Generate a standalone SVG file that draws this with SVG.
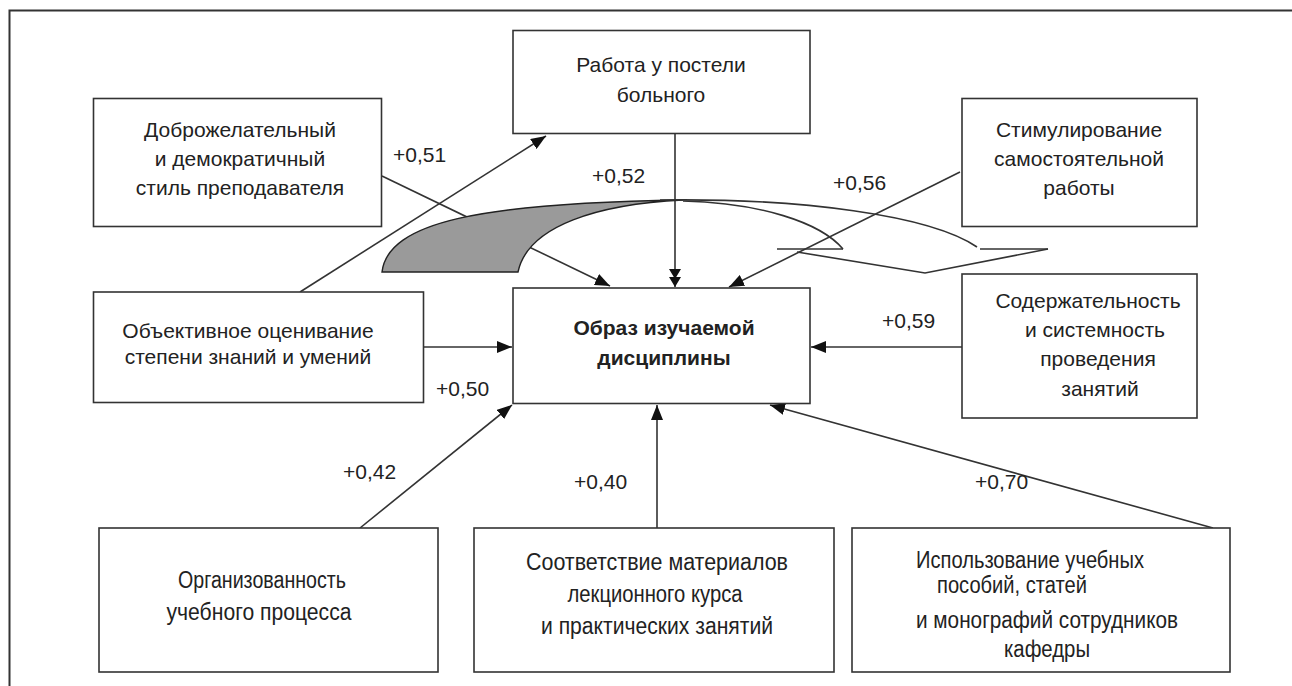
<svg xmlns="http://www.w3.org/2000/svg" width="1292" height="686" viewBox="0 0 1292 686">
<style>
.box{fill:#fff;stroke:#333;stroke-width:1.6}
.t{font-family:"Liberation Sans",Arial,sans-serif;font-size:21px;fill:#222;text-anchor:middle}
.b{font-weight:bold}
.n{font-family:"Liberation Sans Narrow","Liberation Sans",Arial,sans-serif;font-size:23px;fill:#222;text-anchor:middle}
.lbl{font-family:"Liberation Sans",Arial,sans-serif;font-size:21px;fill:#222}
.c{fill:none;stroke:#333;stroke-width:1.6}
.frame{fill:none;stroke:#333;stroke-width:2}
</style>
<defs>
<marker id="ah" viewBox="0 0 15 12" refX="15" refY="6" markerWidth="15" markerHeight="12" markerUnits="userSpaceOnUse" orient="auto">
<path d="M0,0 L15,6 L0,12 Z" fill="#111"/>
</marker>
<marker id="ah2" viewBox="0 0 18 12" refX="18" refY="6" markerWidth="18" markerHeight="12" markerUnits="userSpaceOnUse" orient="auto">
<path d="M0,0 L10,6 L0,12 Z M8,0 L18,6 L8,12 Z" fill="#111"/>
</marker>
</defs>
<rect width="1292" height="686" fill="#fff"/>
<path class="frame" d="M9.5,686 L9.5,10.5 L1292,10.5"/>

<g id="connectors">
<path class="c" d="M382,176 L610,286" marker-end="url(#ah)"/>
<path class="c" d="M300,292 L546,136" marker-end="url(#ah)"/>
<path class="c" d="M675,133 L675,287" marker-end="url(#ah2)"/>
<path class="c" d="M960,172 L729,287" marker-end="url(#ah)"/>
<path class="c" d="M962,347 L811,347" marker-end="url(#ah)"/>
<path class="c" d="M424,347 L512,347" marker-end="url(#ah)"/>
<path class="c" d="M360,528 L512,405" marker-end="url(#ah)"/>
<path class="c" d="M657,528 L657,405" marker-end="url(#ah)"/>
<path class="c" d="M1213,528 L770,405" marker-end="url(#ah)"/>
<path d="M382,272 C388,222 480,203 683,200 C600,204 528,225 518,272 Z" fill="#9a9a9a" stroke="#222" stroke-width="1.4"/>
<path class="c" d="M683,201 C760,203 820,222 843,249"/>
<path class="c" d="M660,200 C800,198 930,215 977,247"/>
<path class="c" d="M777,249 L843,249"/>
<path class="c" d="M980,249 L1048,249"/>
<path class="c" d="M797,252 L925,273 L1048,249"/>
</g>

<g id="node-bedside">
<rect class="box" x="513" y="30.5" width="297" height="103"/>
<text class="t" x="661" y="72">Работа у постели</text>
<text class="t" x="661" y="102">больного</text>
</g>
<g id="node-style">
<rect class="box" x="93.5" y="98.5" width="288" height="128"/>
<text class="t" x="240" y="137">Доброжелательный</text>
<text class="t" x="240" y="166">и демократичный</text>
<text class="t" x="240" y="195">стиль преподавателя</text>
</g>
<g id="node-stimulation">
<rect class="box" x="962" y="98.5" width="235" height="128"/>
<text class="t" x="1079" y="137">Стимулирование</text>
<text class="t" x="1079" y="166">самостоятельной</text>
<text class="t" x="1079" y="195">работы</text>
</g>
<g id="node-assessment">
<rect class="box" x="93.5" y="292" width="330" height="110.5"/>
<text class="t" x="248" y="338">Объективное оценивание</text>
<text class="t" x="248" y="364">степени знаний и умений</text>
</g>
<g id="node-center">
<rect class="box" x="513" y="288" width="297" height="115.5"/>
<text class="t b" x="664" y="335">Образ изучаемой</text>
<text class="t b" x="664" y="365">дисциплины</text>
</g>
<g id="node-content">
<rect class="box" x="962" y="274" width="235" height="144"/>
<text class="t" x="1088" y="308">Содержательность</text>
<text class="t" x="1095" y="337">и системность</text>
<text class="t" x="1098" y="366">проведения</text>
<text class="t" x="1100" y="396">занятий</text>
</g>
<g id="node-organization">
<rect class="box" x="99" y="528" width="339" height="144"/>
<text class="n" x="262" y="588" textLength="168" lengthAdjust="spacingAndGlyphs">Организованность</text>
<text class="n" x="259" y="620" textLength="185" lengthAdjust="spacingAndGlyphs">учебного процесса</text>
</g>
<g id="node-materials">
<rect class="box" x="474" y="528" width="360" height="144"/>
<text class="n" x="657" y="570" textLength="262" lengthAdjust="spacingAndGlyphs">Соответствие материалов</text>
<text class="n" x="655" y="602" textLength="175" lengthAdjust="spacingAndGlyphs">лекционного курса</text>
<text class="n" x="657" y="634" textLength="232" lengthAdjust="spacingAndGlyphs">и практических занятий</text>
</g>
<g id="node-manuals">
<rect class="box" x="852" y="528" width="378" height="144"/>
<text class="n" x="1030" y="568" textLength="228" lengthAdjust="spacingAndGlyphs">Использование учебных</text>
<text class="n" x="1012" y="593" textLength="150" lengthAdjust="spacingAndGlyphs">пособий, статей</text>
<text class="n" x="1047" y="628" textLength="262" lengthAdjust="spacingAndGlyphs">и монографий сотрудников</text>
<text class="n" x="1047" y="657" textLength="86" lengthAdjust="spacingAndGlyphs">кафедры</text>
</g>

<g id="labels">
<text class="lbl" x="393" y="162">+0,51</text>
<text class="lbl" x="592" y="183">+0,52</text>
<text class="lbl" x="833" y="190">+0,56</text>
<text class="lbl" x="882" y="328">+0,59</text>
<text class="lbl" x="436" y="396">+0,50</text>
<text class="lbl" x="343" y="479">+0,42</text>
<text class="lbl" x="574" y="489">+0,40</text>
<text class="lbl" x="975" y="489">+0,70</text>
</g>
</svg>
